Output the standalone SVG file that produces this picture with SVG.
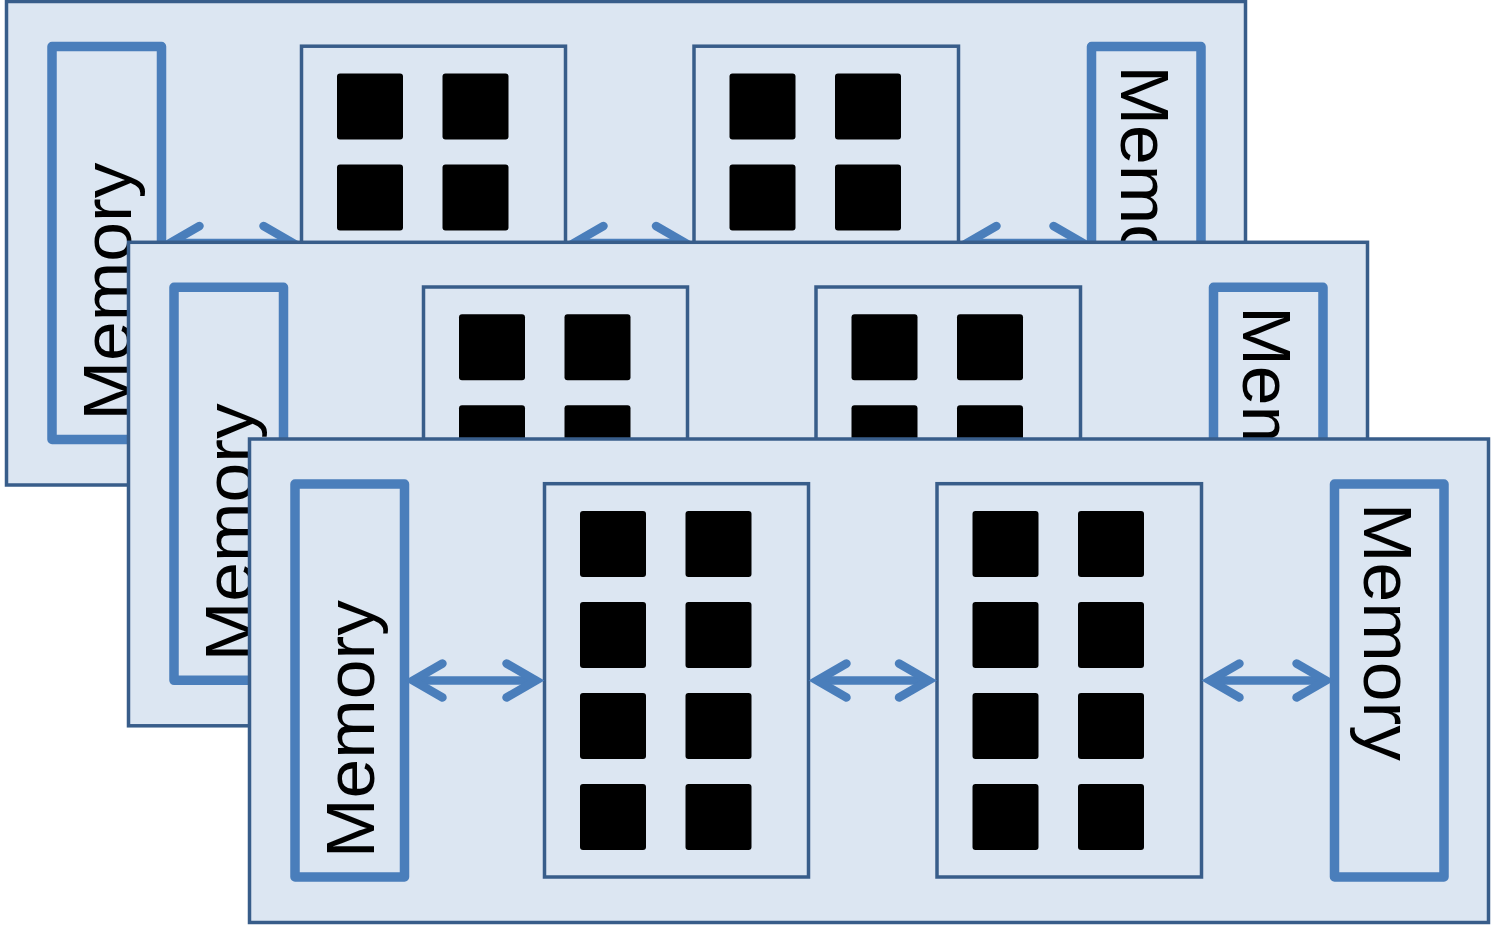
<svg xmlns="http://www.w3.org/2000/svg" xmlns:xlink="http://www.w3.org/1999/xlink" width="1491" height="927" viewBox="0 0 1491 927">
  <style>
    .layer { fill: #DCE6F2; stroke: #385D8A; stroke-width: 3.5; }
    .mem { fill: none; stroke: #4A7EBB; stroke-width: 9.5; stroke-linejoin: round; }
    .chip { fill: none; stroke: #385D8A; stroke-width: 3.5; }
    .core { fill: #000000; }
    .label { font-family: "Liberation Sans", Arial, sans-serif; font-size: 68px; fill: #000000; }
    .link { fill: none; stroke: #4A7EBB; stroke-width: 8.5; marker-start: url(#head); marker-end: url(#head); }
  </style>
  <defs>
    <marker id="head" markerUnits="userSpaceOnUse" orient="auto-start-reverse" refX="0" refY="0" markerWidth="60" markerHeight="60" overflow="visible">
      <path d="M-29.5,-17 L0,0 L-29.5,17" fill="none" stroke="#4A7EBB" stroke-width="8.5" stroke-linecap="round" stroke-linejoin="miter"/>
    </marker>
    <!-- 2 x 4 grid of processing cores, positioned relative to a chip's left edge -->
    <g id="cores">
      <rect class="core" x="35.5" y="72" width="66" height="66" rx="3"/>
      <rect class="core" x="141" y="72" width="66" height="66" rx="3"/>
      <rect class="core" x="35.5" y="163" width="66" height="66" rx="3"/>
      <rect class="core" x="141" y="163" width="66" height="66" rx="3"/>
      <rect class="core" x="35.5" y="254" width="66" height="66" rx="3"/>
      <rect class="core" x="141" y="254" width="66" height="66" rx="3"/>
      <rect class="core" x="35.5" y="345" width="66" height="66" rx="3"/>
      <rect class="core" x="141" y="345" width="66" height="66" rx="3"/>
    </g>
    <!-- one board: memory, two chips, memory, joined by bidirectional links -->
    <g id="board">
      <rect class="layer" x="0" y="0" width="1239" height="483.5"/>
      <g class="node-mem-left">
        <rect class="mem" x="45.5" y="45" width="109.5" height="393"/>
        <text class="label" transform="translate(124.5,419) rotate(-90)" textLength="258" lengthAdjust="spacingAndGlyphs">Memory</text>
      </g>
      <g class="node-chip-1">
        <rect class="chip" x="295" y="44.7" width="264" height="393.3"/>
        <use xlink:href="#cores" href="#cores" transform="translate(295,0)"/>
      </g>
      <g class="node-chip-2">
        <rect class="chip" x="687.5" y="44.7" width="264.5" height="393.3"/>
        <use xlink:href="#cores" href="#cores" transform="translate(687.5,0)"/>
      </g>
      <g class="node-mem-right">
        <rect class="mem" x="1085" y="45" width="109.5" height="393"/>
        <text class="label" transform="translate(1114,64) rotate(90)" textLength="258" lengthAdjust="spacingAndGlyphs">Memory</text>
      </g>
      <g class="connectors">
        <line class="link" x1="163.5" y1="241.5" x2="286.5" y2="241.5"/>
        <line class="link" x1="567.5" y1="241.5" x2="679" y2="241.5"/>
        <line class="link" x1="960.5" y1="241.5" x2="1076.5" y2="241.5"/>
      </g>
    </g>
  </defs>

  <rect x="0" y="0" width="1491" height="927" fill="#FFFFFF"/>

  <!-- three stacked boards, back to front -->
  <g id="board-back" transform="translate(6.5,1.5)">
    <use xlink:href="#board" href="#board"/>
  </g>
  <g id="board-middle" transform="translate(128.5,242.3)">
    <use xlink:href="#board" href="#board"/>
  </g>
  <g id="board-front" transform="translate(249.5,439)">
    <use xlink:href="#board" href="#board"/>
  </g>
</svg>
